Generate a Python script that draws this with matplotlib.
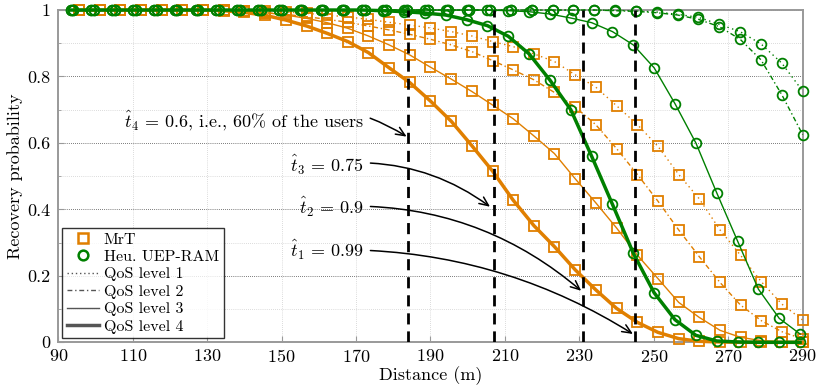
import matplotlib
matplotlib.use('Agg')
from matplotlib import pyplot as plt
from matplotlib.lines import Line2D

plt.rcParams['font.family'] = 'serif'
plt.rcParams['font.serif'] = ['cmr10']
plt.rcParams['mathtext.fontset'] = 'cm'
plt.rcParams['axes.formatter.use_mathtext'] = True

# ---- data ----
# MrT sample distances (m)
mrt_dist = [95.6, 101.1, 106.7, 112.2, 117.8, 123.3, 128.9, 134.4, 140.0, 145.6,
            151.1, 156.7, 162.2, 167.8, 173.3, 178.9, 184.4, 190.0, 195.6, 201.1,
            206.7, 212.2, 217.8, 223.3, 228.9, 234.4, 240.0, 245.6, 251.1, 256.7,
            262.2, 267.8, 273.3, 278.9, 284.4, 290.0]

mrt_qos1 = [1, 1, 1, 1, 1, 1, 1, 0.999, 0.998, 0.997,
            0.994, 0.990, 0.985, 0.979, 0.972, 0.963, 0.955, 0.946, 0.935, 0.922,
            0.905, 0.890, 0.868, 0.845, 0.805, 0.768, 0.712, 0.655, 0.590, 0.505,
            0.432, 0.338, 0.262, 0.182, 0.115, 0.067]
mrt_qos2 = [1, 1, 1, 1, 1, 1, 1, 0.999, 0.996, 0.992,
            0.987, 0.980, 0.972, 0.963, 0.952, 0.940, 0.927, 0.912, 0.895, 0.875,
            0.848, 0.820, 0.790, 0.752, 0.708, 0.655, 0.583, 0.505, 0.425, 0.338,
            0.258, 0.180, 0.112, 0.065, 0.032, 0.010]
mrt_qos3 = [1, 1, 1, 1, 1, 1, 1, 0.999, 0.997, 0.992,
            0.985, 0.975, 0.962, 0.945, 0.922, 0.895, 0.865, 0.828, 0.792, 0.755,
            0.714, 0.673, 0.621, 0.568, 0.492, 0.420, 0.344, 0.262, 0.192, 0.120,
            0.075, 0.036, 0.015, 0.005, 0.001, 0]
mrt_qos4 = [1, 1, 1, 1, 1, 1, 1, 0.998, 0.993, 0.984,
            0.970, 0.952, 0.930, 0.905, 0.872, 0.826, 0.782, 0.726, 0.665, 0.592,
            0.515, 0.428, 0.351, 0.288, 0.218, 0.158, 0.102, 0.060, 0.030, 0.011,
            0.003, 0.001, 0, 0, 0, 0]

# Heu. UEP-RAM sample distances (m)
heu_dist_a = [94.0, 99.6, 105.2, 110.8, 116.4, 122.0, 127.6, 133.2, 138.8, 144.4,
              150.0, 155.6, 161.2, 166.8, 172.4, 178.0, 183.6, 189.2, 194.8, 200.4,
              206.0, 211.6, 217.2, 222.8, 228.4, 234.0, 239.6, 245.2, 250.8, 256.4,
              262.0, 267.6, 273.2, 278.8, 284.4, 290.0]
heu_dist_b = [93.3, 98.9, 104.5, 110.1, 115.7, 121.3, 126.9, 132.5, 138.1, 143.7,
              149.3, 154.9, 160.5, 166.1, 171.7, 177.3, 182.9, 188.5, 194.1, 199.7,
              205.3, 210.9, 216.5, 222.1, 227.7, 233.3, 238.9, 244.5, 250.1, 255.7,
              261.3, 266.9, 272.5, 278.1, 283.7, 289.3]

heu_qos1 = [1, 1, 1, 1, 1, 1, 1, 1, 1, 1,
            1, 1, 1, 1, 1, 1, 1, 1, 1, 1,
            1, 1, 1, 1, 1, 1, 0.999, 0.997, 0.994, 0.987,
            0.978, 0.957, 0.935, 0.898, 0.840, 0.756]
heu_qos2 = [1, 1, 1, 1, 1, 1, 1, 1, 1, 1,
            1, 1, 1, 1, 1, 1, 1, 1, 1, 1,
            1, 1, 1, 1, 1, 1, 0.998, 0.996, 0.992, 0.985,
            0.972, 0.950, 0.912, 0.850, 0.745, 0.625]
heu_qos3 = [1, 1, 1, 1, 1, 1, 1, 1, 1, 1,
            1, 1, 1, 1, 1, 1, 1, 1, 1, 1,
            1, 0.998, 0.995, 0.988, 0.976, 0.962, 0.935, 0.895, 0.826, 0.718,
            0.600, 0.450, 0.305, 0.160, 0.072, 0.025]
heu_qos4 = [1, 1, 1, 1, 1, 1, 1, 1, 1, 1,
            1, 1, 1, 1, 1, 0.998, 0.995, 0.991, 0.985, 0.971,
            0.953, 0.921, 0.868, 0.789, 0.700, 0.560, 0.415, 0.268, 0.149, 0.068,
            0.021, 0.004, 0.001, 0, 0, 0]

thresholds = [184, 207, 231, 245]
annot_text = [r'$\hat{t}_4\,=\,0.6$, i.e., 60% of the users', r'$\hat{t}_3\,=\,0.75$',
              r'$\hat{t}_2\,=\,0.9$', r'$\hat{t}_1\,=\,0.99$']
annot_text_y = [0.669, 0.534, 0.408, 0.278]
annot_tip = [(183.6, 0.619), (206.0, 0.408), (230.5, 0.155), (244.4, 0.025)]
annot_rad = [-0.25, -0.2, -0.2, -0.15]

orange = '#E07F00'
green = '#008000'
qos_styles = [(0, (1, 2.5)), (0, (3.5, 2, 1, 2)), '-', '-']
qos_lw = [1.0, 1.0, 1.0, 2.5]
fs = 13

fig = plt.figure(figsize=(8.22, 3.86), dpi=100)
ax = fig.add_axes([0.0709, 0.1132, 0.9056, 0.8608])

mrt_all = [mrt_qos1, mrt_qos2, mrt_qos3, mrt_qos4]
heu_all = [heu_qos1, heu_qos2, heu_qos3, heu_qos4]
heu_x = [heu_dist_a, heu_dist_a, heu_dist_b, heu_dist_b]

# MrT curves first, then the heuristic on top
for i in range(4):
  ax.plot(mrt_dist, mrt_all[i], color=orange, ls=qos_styles[i], lw=qos_lw[i],
          marker='s', ms=6.8, mew=1.3, mfc='none', clip_on=False, zorder=3)
for i in range(4):
  ax.plot(heu_x[i], heu_all[i], color=green, ls=qos_styles[i], lw=qos_lw[i],
          marker='o', ms=7, mew=1.3, mfc='none', clip_on=False, zorder=4)

for t in thresholds:
  ax.axvline(t, color='black', ls=(0, (4, 2.5)), lw=2.0, zorder=5)

for i in range(4):
  ax.annotate(annot_text[i], xy=annot_tip[i], xytext=(172.0, annot_text_y[i]),
              ha='right', va='center', fontsize=fs,
              arrowprops=dict(arrowstyle='->,head_length=0.5,head_width=0.22', color='black',
                              lw=1.1, shrinkA=3, shrinkB=0,
                              connectionstyle='arc3,rad=%s' % annot_rad[i]),
              zorder=6)

ax.set_xlim(90, 290)
ax.set_ylim(0, 1)
ax.set_xticks([90, 110, 130, 150, 170, 190, 210, 230, 250, 270, 290])
ax.set_yticks([0, 0.2, 0.4, 0.6, 0.8, 1])
ax.set_yticklabels(['0', '0.2', '0.4', '0.6', '0.8', '1'])
ax.set_yticks([0.1, 0.3, 0.5, 0.7, 0.9], minor=True)
ax.tick_params(direction='in', length=4, color='#999999', labelsize=fs, pad=4)
ax.tick_params(which='minor', direction='in', length=2.5, color='#999999')
ax.tick_params(axis='y', pad=6)
for s in ax.spines.values():
  s.set_color('#999999')
  s.set_linewidth(1.4)

ax.yaxis.grid(True, which='major', color='black', ls=(0, (1, 2)), lw=0.5)
ax.yaxis.grid(True, which='minor', color='#bbbbbb', ls=(0, (1, 2)), lw=0.5)
ax.xaxis.grid(True, which='major', color='#bbbbbb', ls=(0, (1, 2)), lw=0.5)
ax.set_axisbelow(True)

ax.set_xlabel('Distance (m)', fontsize=fs, labelpad=1)
ax.set_ylabel('Recovery probability', fontsize=fs, labelpad=3)

handles = [Line2D([], [], color=orange, marker='s', ls='none', ms=6.5, mew=1.8, mfc='none'),
           Line2D([], [], color=green, marker='o', ls='none', ms=7, mew=1.8, mfc='none'),
           Line2D([], [], color='#555555', ls=(0, (1, 2)), lw=1.0),
           Line2D([], [], color='#555555', ls=(0, (3.5, 2, 1, 2)), lw=1.0),
           Line2D([], [], color='#555555', ls='-', lw=1.0),
           Line2D([], [], color='#555555', ls='-', lw=2.5)]
labels = ['MrT', 'Heu. UEP-RAM', 'QoS level 1', 'QoS level 2', 'QoS level 3', 'QoS level 4']
leg = ax.legend(handles, labels, loc='lower left', bbox_to_anchor=(0.005, 0.012),
                fontsize=11.5, frameon=True, fancybox=False, edgecolor='black',
                handlelength=2.0, handletextpad=0.3, labelspacing=0.2,
                borderpad=0.3, borderaxespad=0)
leg.get_frame().set_linewidth(1.0)
leg.set_zorder(10)

plt.savefig('out.png', dpi=100)
